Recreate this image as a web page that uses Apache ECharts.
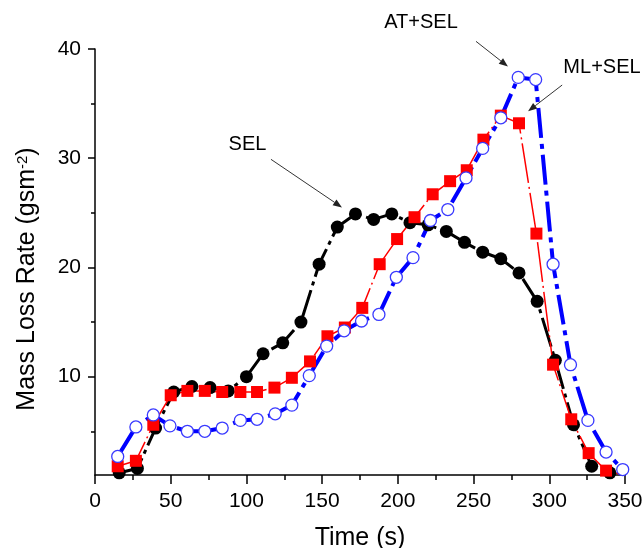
<!DOCTYPE html>
<html>
<head>
<meta charset="utf-8">
<script src="https://cdn.jsdelivr.net/npm/echarts@6/dist/echarts.min.js"></script>
<style>
    html, body { margin: 0; padding: 0; background: #fff; }
    #chart { width: 644px; height: 548px; }
</style>
</head>
<body>
<div id="chart"></div>
<script>
// values
const selTime = [16, 28, 40, 52, 64, 76, 88, 100, 111, 124, 136, 148, 160, 172, 184, 196, 208, 220, 232, 244, 256, 268, 280, 292, 304, 316, 328, 340];
const selRate = [1.2, 1.6, 5.3, 8.6, 9.1, 9.0, 8.7, 10.0, 12.1, 13.1, 15.0, 20.3, 23.7, 24.9, 24.4, 24.9, 24.1, 23.9, 23.3, 22.3, 21.4, 20.8, 19.5, 16.9, 11.5, 5.6, 1.8, 1.2];

const mlTime = [15, 27, 38.5, 50, 61, 72.5, 84, 96, 107, 118.5, 130, 142, 153.5, 165, 176.5, 188, 199.5, 211, 223, 234.5, 245.5, 256.5, 268, 280, 291.5, 302.5, 314.5, 326, 337.5, 349];
const mlRate = [1.8, 2.3, 5.6, 8.3, 8.7, 8.7, 8.6, 8.6, 8.6, 9.0, 9.9, 11.4, 13.7, 14.5, 16.3, 20.3, 22.6, 24.6, 26.7, 27.9, 28.9, 31.7, 33.9, 33.2, 23.1, 11.1, 6.1, 3.0, 1.4, 1.0];

const atTime = [15, 27, 38.5, 49.5, 61, 72.5, 84, 96, 107, 119, 130, 141.5, 153, 164.5, 176, 187.5, 199, 210, 221.5, 233, 245, 256, 268, 279.5, 291, 302.5, 314, 325.5, 337.5, 348.5];
const atRate = [2.7, 5.4, 6.5, 5.5, 5.0, 5.0, 5.3, 6.0, 6.1, 6.6, 7.4, 10.1, 12.8, 14.2, 15.1, 15.7, 19.1, 20.9, 24.3, 25.3, 28.2, 30.9, 33.7, 37.4, 37.2, 20.3, 11.1, 6.0, 3.1, 1.5];

const yLabels = [10, 20, 30, 40];
const yMinorTicks = [5, 15, 25, 35];

// labels with arrows: text centre, arrow start, arrow end (data coords)
const notes = [
    { text: 'SEL',    at: [100.7, 31.3], from: [116.2, 29.9], to: [163.1, 25.5] },
    { text: 'AT+SEL', at: [215.3, 42.4], from: [251.6, 40.7], to: [272.7, 38.4] },
    { text: 'ML+SEL', at: [334.8, 38.3], from: [308.5, 36.7], to: [286.0, 34.3] }
];

const FONT = '"Liberation Sans", Arial, sans-serif';
const Y_MIN = 1, Y_MAX = 40;

function pairs(xs, ys) {
    return xs.map((x, i) => {
        // last point sits on the axis corner, no marker there
        if (ys[i] <= Y_MIN) return { value: [x, ys[i]], symbol: 'none' };
        return [x, ys[i]];
    });
}

let myChart = echarts.init(document.getElementById('chart'));

myChart.setOption({
    animation: false,
    grid: { left: 95, right: 19, top: 49, bottom: 73, containLabel: false, outerBoundsMode: 'none' },
    xAxis: {
        type: 'value',
        min: 0,
        max: 350,
        interval: 50,
        name: 'Time (s)',
        nameLocation: 'middle',
        nameGap: 51,
        nameTextStyle: { fontSize: 25, fontFamily: FONT, color: '#000' },
        axisLine: { show: true, lineStyle: { color: '#000', width: 1.5 } },
        axisTick: { show: true, length: 9, lineStyle: { color: '#000', width: 1.5 } },
        minorTick: { show: true, splitNumber: 2, length: 5, lineStyle: { color: '#000', width: 1.5 } },
        axisLabel: { fontSize: 21, fontFamily: FONT, color: '#000', margin: 16 },
        splitLine: { show: false }
    },
    yAxis: [
        {
            type: 'value',
            min: Y_MIN,
            max: Y_MAX,
            name: 'Mass Loss Rate (gsm{sup|-2})',
            nameLocation: 'middle',
            nameGap: 55,
            nameTextStyle: {
                fontSize: 25, fontFamily: FONT, color: '#000',
                padding: [0, 34, 0, 0],
                rich: { sup: { fontSize: 15, fontFamily: FONT, color: '#000', verticalAlign: 'top', padding: [0, 0, 10, 0] } }
            },
            axisLine: { show: true, lineStyle: { color: '#000', width: 1.5 } },
            axisTick: { show: true, length: 7, customValues: yLabels, lineStyle: { color: '#000', width: 1.5 } },
            axisLabel: { customValues: yLabels, fontSize: 21, fontFamily: FONT, color: '#000', margin: 14 },
            splitLine: { show: false }
        },
        {
            // only the short minor ticks
            type: 'value',
            min: Y_MIN,
            max: Y_MAX,
            position: 'left',
            axisLine: { show: false },
            axisTick: { show: true, length: 4, customValues: yMinorTicks, lineStyle: { color: '#000', width: 1.5 } },
            axisLabel: { show: false },
            splitLine: { show: false }
        }
    ],
    series: [
        {
            name: 'SEL',
            type: 'line',
            data: pairs(selTime, selRate),
            symbol: 'circle',
            symbolSize: 13,
            itemStyle: { color: '#000' },
            lineStyle: { color: '#000', width: 3, type: [30, 5, 4, 5] }
        },
        {
            name: 'ML+SEL',
            type: 'line',
            data: pairs(mlTime, mlRate),
            symbol: 'rect',
            symbolSize: 12,
            itemStyle: { color: '#ff0000' },
            lineStyle: { color: '#ff0000', width: 1.5, type: [40, 4, 2, 4] }
        },
        {
            name: 'AT+SEL',
            type: 'line',
            data: pairs(atTime, atRate),
            symbol: 'circle',
            symbolSize: 12,
            itemStyle: { color: '#fff', borderColor: '#3a3aff', borderWidth: 1.3 },
            lineStyle: { color: '#0000ff', width: 4, type: [30, 6, 5, 6] }
        }
    ]
});

// annotations, placed through the axes
let shapes = [];
notes.forEach(n => {
    const t = myChart.convertToPixel({ xAxisIndex: 0, yAxisIndex: 0 }, n.at);
    const a = myChart.convertToPixel({ xAxisIndex: 0, yAxisIndex: 0 }, n.from);
    const b = myChart.convertToPixel({ xAxisIndex: 0, yAxisIndex: 0 }, n.to);
    const dx = b[0] - a[0], dy = b[1] - a[1];
    const len = Math.sqrt(dx * dx + dy * dy);
    const ux = dx / len, uy = dy / len;
    const hl = 9, hw = 3.5;
    const bx = b[0] - ux * hl, by = b[1] - uy * hl;
    shapes.push({
        type: 'text',
        z: 100,
        style: { text: n.text, x: t[0], y: t[1], fill: '#000', fontSize: 20, fontFamily: FONT, align: 'center', verticalAlign: 'middle' }
    });
    shapes.push({
        type: 'line',
        z: 100,
        shape: { x1: a[0], y1: a[1], x2: bx, y2: by },
        style: { stroke: '#333', lineWidth: 1 }
    });
    shapes.push({
        type: 'polygon',
        z: 100,
        shape: { points: [[b[0], b[1]], [bx - uy * hw, by + ux * hw], [bx + uy * hw, by - ux * hw]] },
        style: { fill: '#222' }
    });
});
myChart.setOption({ graphic: shapes });
</script>
</body>
</html>
